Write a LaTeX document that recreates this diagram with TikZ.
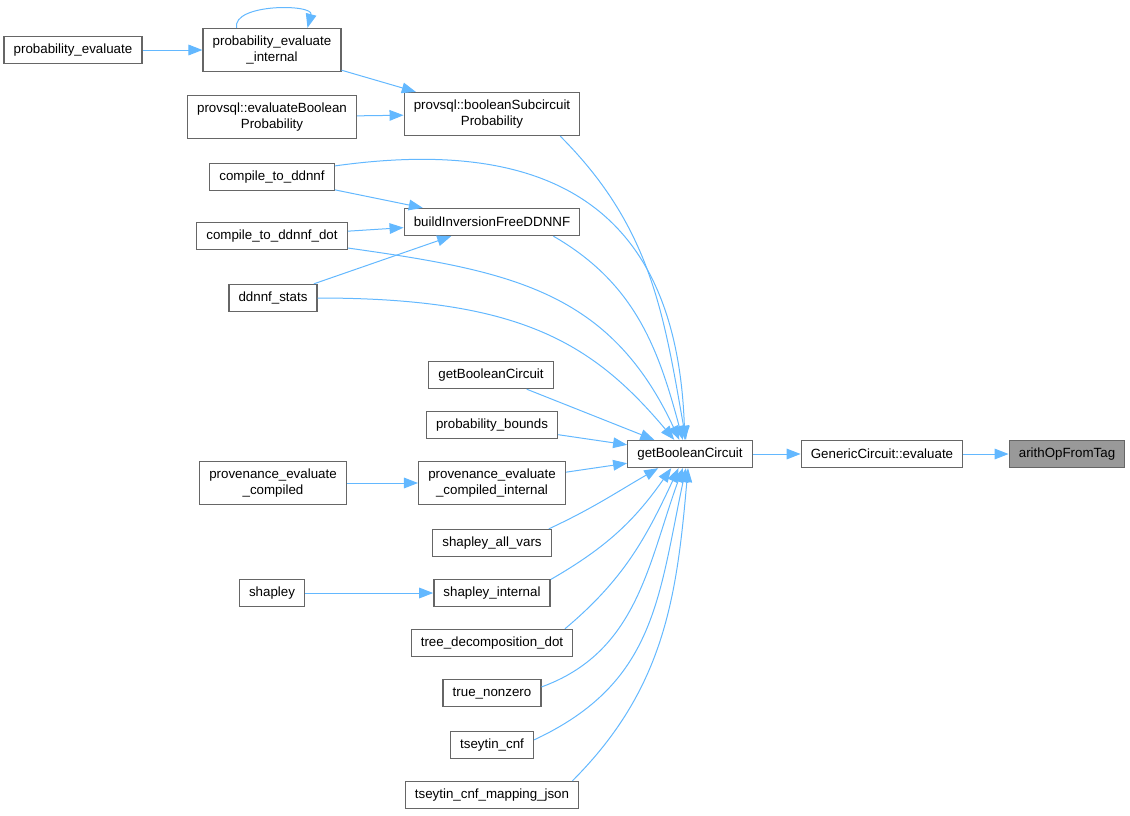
\documentclass[tikz,border=0pt]{standalone}
\usepackage{fontspec}
\setmainfont{Liberation Sans}
\usepackage{xcolor}
\definecolor{ColEdge}{RGB}{99,184,255}
\definecolor{ColLine}{RGB}{102,102,102}
\definecolor{ColCur}{RGB}{153,153,153}
\usepackage{tikz}
\usetikzlibrary{arrows.meta}
\tikzstyle{Node}=[rectangle,draw=ColLine,fill=white,line width=1pt,
inner xsep=7.2pt,inner ysep=0pt,minimum height=20.25pt,align=center,
font=\fontsize{10}{12}\selectfont]
\tikzstyle{NodeTwo}=[Node,minimum height=32.25pt]
\tikzstyle{NodeCur}=[Node,fill=ColCur]
\tikzstyle{Edge}=[draw=ColEdge,line width=.75pt,
-{Triangle[length=10.5pt,width=8pt]}]

\begin{document}
\begin{tikzpicture}[x=.75pt,y=.75pt]
        \useasboundingbox(0,0)rectangle(1130,-815);
        \node[NodeCur](1)at(1067,-454){arithOpFromTag};
        \node[Node](2)at(882,-454){GenericCircuit::evaluate};
        \node[Node](3)at(690,-454){getBooleanCircuit};
        \node[NodeTwo](4)at(492,-114)
            {provsql::booleanSubcircuit\\Probability};
        \node[NodeTwo](5)at(272,-50){probability\_evaluate\\\_internal};
        \node[Node](6)at(73,-50){probability\_evaluate};
        \node[NodeTwo](7)at(272,-117)
            {provsql::evaluateBoolean\\Probability};
        \node[Node](8)at(492,-222){buildInversionFreeDDNNF};
        \node[Node](9)at(272,-177){compile\_to\_ddnnf};
        \node[Node](10)at(272,-236){compile\_to\_ddnnf\_dot};
        \node[Node](11)at(273,-298){ddnnf\_stats};
        \node[Node](12)at(491,-375){getBooleanCircuit};
        \node[Node](13)at(492,-425){probability\_bounds};
        \node[NodeTwo](14)at(492,-483)
            {provenance\_evaluate\\\_compiled\_internal};
        \node[NodeTwo](15)at(273,-483)
            {provenance\_evaluate\\\_compiled};
        \node[Node](16)at(492,-543){shapley\_all\_vars};
        \node[Node](17)at(492,-593){shapley\_internal};
        \node[Node](18)at(272,-593){shapley};
        \node[Node](19)at(492,-643){tree\_decomposition\_dot};
        \node[Node](20)at(492,-693){true\_nonzero};
        \node[Node](21)at(492,-745){tseytin\_cnf};
        \node[Node](22)at(492,-795){tseytin\_cnf\_mapping\_json};
        \draw[Edge](2)--(1);
        \draw[Edge](3)--(2);
        \draw[Edge](4.-18)to[out=-45,in=100](3.106);
        \draw[Edge](5)--(4);
        \draw[Edge](5.148)to[out=100,in=75,looseness=.9](5.32);
        \draw[Edge](6)--(5);
        \draw[Edge](7)--(4);
        \draw[Edge](8.-13)to[out=-30,in=105](3.117);
        \draw[Edge](9)--(8);
        \draw[Edge](9.10)to[out=8,in=92,looseness=1.3](3.110);
        \draw[Edge](10)--(8);
        \draw[Edge](10.-9)to[out=-8,in=115,looseness=1.1](3.127);
        \draw[Edge](11)--(8);
        \draw[Edge](11.east)to[out=0,in=130,out looseness=1.33,
            in looseness=.86](3.138);
        \draw[Edge](12)--(3);
        \draw[Edge](13)--(3);
        \draw[Edge](14)--(3);
        \draw[Edge](15)--(14);
        \draw[Edge](16.14)to[out=25,in=210](3.204);
        \draw[Edge](17.13)to[out=30,in=235](3.217);
        \draw[Edge](18)--(17);
        \draw[Edge](19.11)to[out=40,in=245](3.231);
        \draw[Edge](20.7)to[out=20,in=250](3.243);
        \draw[Edge](21.7)to[out=25,in=258,looseness=1.1](3.254);
        \draw[Edge](22.10)to[out=45,in=265](3.262);
    \end{tikzpicture}
\end{document}
